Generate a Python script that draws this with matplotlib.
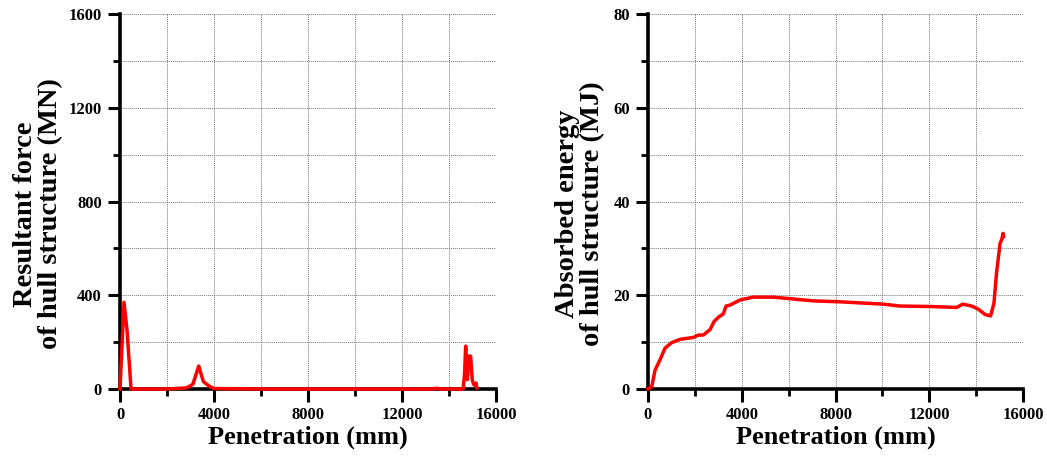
import numpy as np
import matplotlib.pyplot as plt
from matplotlib.ticker import MultipleLocator

plt.rcParams['font.family'] = ['Liberation Serif', 'DejaVu Serif']
plt.rcParams['font.weight'] = 'bold'

# resultant force of hull structure (MN) vs penetration (mm)
force_x = [0, 170, 300, 470, 1000, 2000, 2840, 3100, 3350, 3550, 3830, 4000,
           6000, 10000, 13300, 13470, 13650, 14600, 14660, 14710, 14780, 14860,
           14920, 14990, 15050, 15100, 15150, 15190]
force_y = [0, 370, 250, 0, 0, 0, 5, 20, 98, 31, 10, 2,
           0, 0, 0, 3, 0, 0, 60, 183, 40, 141,
           140, 38, 20, 15, 25, 5]

# absorbed energy of hull structure (MJ) vs penetration (mm)
energy_x = [0, 160, 300, 510, 725, 1010, 1370, 1940, 2150, 2360, 2650, 2820,
            3000, 3210, 3330, 3500, 3930, 4490, 5340, 6200, 7050, 8190,
            10040, 10750, 12030, 13170, 13430, 13810, 14100, 14380, 14620,
            14760, 14870, 15020, 15100, 15150, 15170]
energy_y = [0, 0.5, 4.0, 6.2, 8.7, 9.9, 10.6, 11.0, 11.5, 11.5, 12.7, 14.4,
            15.3, 16.0, 17.7, 17.9, 19.0, 19.6, 19.6, 19.2, 18.8, 18.6,
            18.1, 17.7, 17.6, 17.4, 18.1, 17.7, 17.0, 15.9, 15.6,
            18.3, 24.7, 31.0, 32.0, 33.2, 32.5]

fig = plt.figure(figsize=(10.47, 4.59), dpi=100)
ax1 = fig.add_axes([120 / 1047, 70 / 459, 376 / 1047, 375 / 459])
ax2 = fig.add_axes([648 / 1047, 70 / 459, 375 / 1047, 375 / 459])


def style_axes(ax, ymax, ymajor, yminor):
    ax.set_xlim(0, 16000)
    ax.set_ylim(0, ymax)
    ax.xaxis.set_major_locator(MultipleLocator(4000))
    ax.xaxis.set_minor_locator(MultipleLocator(2000))
    ax.yaxis.set_major_locator(MultipleLocator(ymajor))
    ax.yaxis.set_minor_locator(MultipleLocator(yminor))
    ax.spines['top'].set_visible(False)
    ax.spines['right'].set_visible(False)
    for s in ('left', 'bottom'):
        ax.spines[s].set_linewidth(2.6)
    ax.tick_params(which='major', direction='out', length=9, width=2.2,
                   labelsize=12, pad=4)
    ax.tick_params(which='minor', direction='out', length=5, width=2.0)
    ax.grid(True, which='both', linestyle=(0, (1, 1)), color='#777777',
            linewidth=0.7)
    ax.set_axisbelow(True)
    for lab in ax.get_xticklabels() + ax.get_yticklabels():
        lab.set_fontweight('bold')
    ax.set_xlabel('Penetration (mm)', fontsize=19, fontweight='bold', labelpad=2)


style_axes(ax1, 1600, 400, 200)
ax1.plot(force_x, force_y, color='#ff0000', linewidth=2.5, clip_on=False, zorder=3)
ax1.set_ylabel('Resultant force\nof hull structure (MN)', fontsize=20.5,
               fontweight='bold', linespacing=1.05)
ax1.yaxis.label.set_verticalalignment('center')
ax1.yaxis.set_label_coords((38 - 120) / 376, 0.467)

style_axes(ax2, 80, 20, 10)
ax2.plot(energy_x, energy_y, color='#ff0000', linewidth=2.5, clip_on=False, zorder=3)
ax2.set_ylabel('Absorbed energy\nof hull structure (MJ)', fontsize=20.5,
               fontweight='bold', linespacing=1.05)
ax2.yaxis.label.set_verticalalignment('center')
ax2.yaxis.set_label_coords((580 - 648) / 375, 0.467)

fig.savefig('out.png', dpi=100)
